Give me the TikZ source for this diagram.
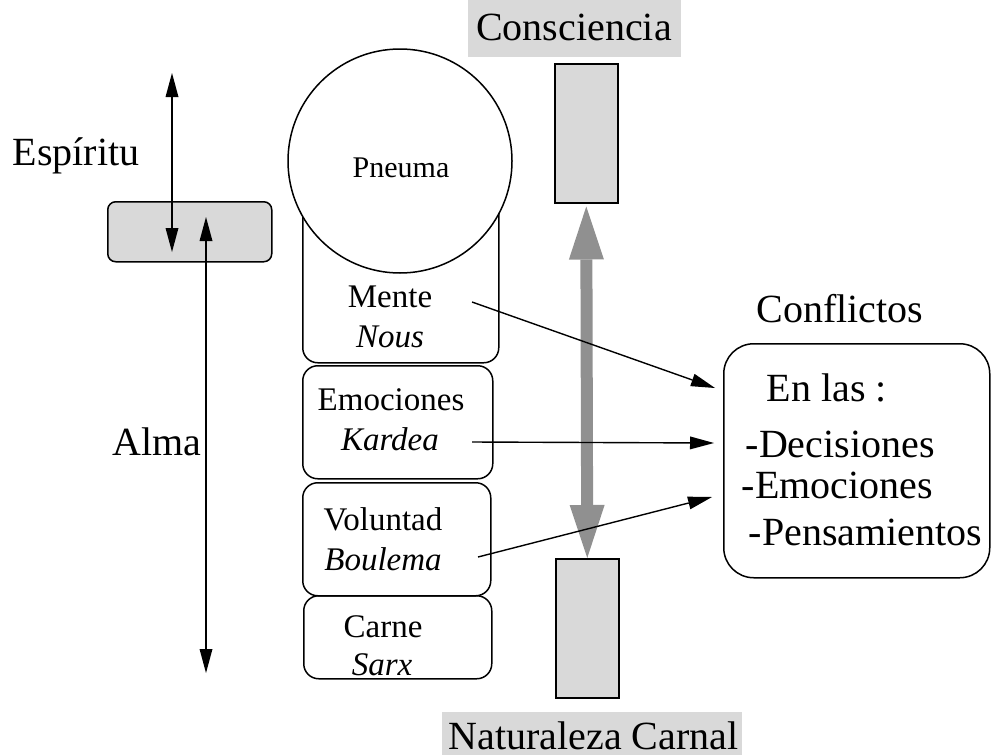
\documentclass[tikz,border=0pt]{standalone}
\usepackage{fontspec}
\setmainfont{Liberation Serif}
\usetikzlibrary{arrows.meta}
\definecolor{boxgray}{HTML}{D9D9D9}
\definecolor{arrgray}{HTML}{909090}
\begin{document}
\begin{tikzpicture}[x=1pt,y=-1pt,line width=1.5pt,
  big/.style={font=\fontsize{40}{48}\selectfont,inner sep=0pt,anchor=base},
  small/.style={font=\fontsize{33}{38}\selectfont,inner sep=0pt,anchor=base},
  lft/.style={font=\fontsize{40}{48}\selectfont,inner sep=0pt,anchor=base west},
  rbox/.style={draw,rounded corners=15pt,line width=1.5pt,inner sep=0pt,anchor=north west},
  gbox/.style={draw,fill=boxgray,line width=1.5pt,inner sep=0pt,anchor=north west},
  thin/.style={{Triangle[length=24pt,width=13pt,line width=0pt]}-{Triangle[length=24pt,width=13pt,line width=0pt]},line width=1.4pt},
  thinr/.style={-{Triangle[length=24pt,width=13pt,line width=0pt]},line width=1.4pt},
  thick/.style={{Triangle[length=53pt,width=35pt,line width=0pt]}-{Triangle[length=53pt,width=35pt,line width=0pt]},line width=12pt,arrgray}]
\useasboundingbox (0,0) rectangle (992,755);

% top and bottom labels
\fill[boxgray] (468,0) rectangle (681,57);
\node[big] (consc) at (574,40) {Consciencia};
\fill[boxgray] (442,712) rectangle (742,755);
\node[lft] (natur) at (448,749) {Naturaleza Carnal};

% conscience / flesh rectangles
\node[gbox,minimum width=63pt,minimum height=139pt] (cr) at (554,63) {};
\node[gbox,minimum width=63pt,minimum height=139pt] (nr) at (555,558) {};
\draw[thick,shorten <=3pt,shorten >=0pt] (cr.south) -- (nr.north);

% left side
\node[draw,fill=boxgray,rounded corners=8pt,minimum width=164pt,minimum height=60pt,inner sep=0pt,anchor=north west] (esp) at (107,201) {};
\node[big] (esptxt) at (76,165) {Espíritu};
\node[big] (alma) at (157,455) {Alma};
\coordinate (a1t) at (172,73);
\coordinate (a1b) at (172,252);
\coordinate (a2t) at (206,217);
\coordinate (a2b) at (206,673);
\draw[thin] (a1t) -- (a1b);
\draw[thin] (a2t) -- (a2b);

% stack of boxes
\node[rbox,minimum width=196pt,minimum height=172pt] (mente) at (302,190) {};
\node[rbox,minimum width=190pt,minimum height=113pt] (emoc) at (302,365) {};
\node[rbox,minimum width=188pt,minimum height=113pt] (volun) at (302,482) {};
\node[rbox,minimum width=188pt,minimum height=83pt] (carne) at (303,595) {};
\draw[fill=white,line width=1.5pt] (400,161) circle (112pt);
\node[font=\fontsize{30}{36}\selectfont,inner sep=0pt,anchor=base] (pneuma) at (401,177) {Pneuma};

\node[small] (t1) at (390,307) {Mente};
\node[small] (t1b) at (390,347) {\itshape Nous};
\node[small] (t2) at (391,410) {Emociones};
\node[small] (t2b) at (390,450) {\itshape Kardea};
\node[small] (t3) at (383,530) {Voluntad};
\node[small] (t3b) at (383,570) {\itshape Boulema};
\node[small] (t4) at (383,637) {Carne};
\node[small] (t4b) at (382,675) {\itshape Sarx};

% conflicts box
\node[big] (conf) at (840,322) {Conflictos};
\node[draw,rounded corners=30pt,minimum width=266pt,minimum height=234pt,inner sep=0pt,anchor=north west,line width=1.5pt] (cbox) at (723,343) {};
\node[lft] (c1) at (766,401) {En las :};
\node[lft] (c2) at (745,457) {-Decisiones};
\node[lft] (c3) at (741,498) {-Emociones};
\node[lft] (c4) at (748,545) {-Pensamientos};

\coordinate (s1) at (472,302);
\coordinate (e1) at (715,388);
\coordinate (s2) at (472,442);
\coordinate (e2) at (714,443);
\coordinate (s3) at (478,557);
\coordinate (e3) at (712,497);
\draw[thinr] (s1) -- (e1);
\draw[thinr] (s2) -- (e2);
\draw[thinr] (s3) -- (e3);
\end{tikzpicture}
\end{document}
